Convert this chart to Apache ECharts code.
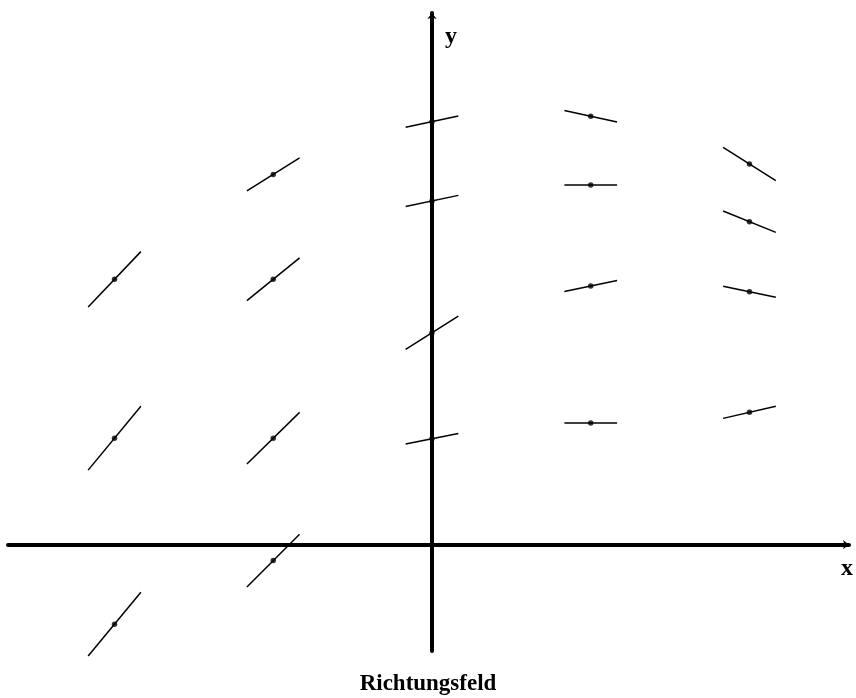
<!DOCTYPE html>
<html>
<head>
<meta charset="utf-8">
<script src="https://cdn.jsdelivr.net/npm/echarts@6/dist/echarts.min.js"></script>
<style>html,body{margin:0;padding:0;background:#fff}#c{width:856px;height:698px}</style>
</head>
<body>
<div id="c"></div>
<script>
// Direction field sample points (x, y) and slope at each point
const xs     = [-2,    -2,    -2,    -1,    -1,    -1,    -1,    0,     0,     0,     0,     1,     1,     1,     1,     2,     2,     2,      2];
const ys     = [-0.50, 0.67,  1.67,  -0.10, 0.67,  1.67,  2.33,  0.667, 1.334, 2.163, 2.662, 0.766, 1.628, 2.263, 2.696, 0.833, 1.592, 2.033,  2.396];
const slopes = [1.21,  1.21,  1.05,  1.0,   0.98,  0.81,  0.625, 0.20,  0.63,  0.213, 0.213, 0,     0.21,  0,     -0.22, 0.23,  -0.21, -0.405, -0.63];
const xRange = [-2.671, 2.627];
const yRange = [-0.669, 3.346];
const titleText = 'Richtungsfeld';

const pts = xs.map((x, i) => [x, ys[i], slopes[i]]);
const H = 0.166; // half horizontal extent of each direction segment (data units)

const chart = echarts.init(document.getElementById('c'));
const serif = '"Liberation Serif", "DejaVu Serif", serif';
chart.setOption({
  animation: false,
  backgroundColor: '#fff',
  title: {
    text: titleText,
    left: 'center',
    top: 668,
    textStyle: { fontFamily: serif, fontWeight: 'bold', fontSize: 23, color: '#000' }
  },
  grid: { left: 8, right: 6, top: 13, bottom: 47, containLabel: false },
  xAxis: {
    type: 'value', min: xRange[0], max: xRange[1], z: 10,
    name: 'x', nameLocation: 'end', nameGap: -2,
    nameTextStyle: { fontFamily: serif, fontWeight: 'bold', fontSize: 24, color: '#000', align: 'center', verticalAlign: 'top', padding: [12, 0, 0, 0] },
    axisLine: { onZero: true, symbol: ['none', 'arrow'], symbolSize: [7, 6], lineStyle: { color: '#000', width: 4 } },
    axisTick: { show: false }, axisLabel: { show: false }, splitLine: { show: false }
  },
  yAxis: {
    type: 'value', min: yRange[0], max: yRange[1], z: 10,
    name: 'y', nameLocation: 'end', nameGap: -36,
    nameTextStyle: { fontFamily: serif, fontWeight: 'bold', fontSize: 24, color: '#000', align: 'left', verticalAlign: 'bottom', padding: [0, 0, 0, 13] },
    axisLine: { onZero: true, symbol: ['none', 'arrow'], symbolSize: [7, 6], lineStyle: { color: '#000', width: 4 } },
    axisTick: { show: false }, axisLabel: { show: false }, splitLine: { show: false }
  },
  series: [
    {
      type: 'custom',
      data: pts,
      renderItem: function (params, api) {
        const x = api.value(0), y = api.value(1), m = api.value(2);
        const p1 = api.coord([x - H, y - m * H]);
        const p2 = api.coord([x + H, y + m * H]);
        return {
          type: 'line',
          shape: { x1: p1[0], y1: p1[1], x2: p2[0], y2: p2[1] },
          style: { stroke: '#000', lineWidth: 1.5 }
        };
      }
    },
    {
      type: 'scatter',
      data: pts.map(p => [p[0], p[1]]),
      symbol: 'circle',
      symbolSize: 5.5,
      itemStyle: { color: '#000' }
    }
  ]
});
</script>
</body>
</html>
